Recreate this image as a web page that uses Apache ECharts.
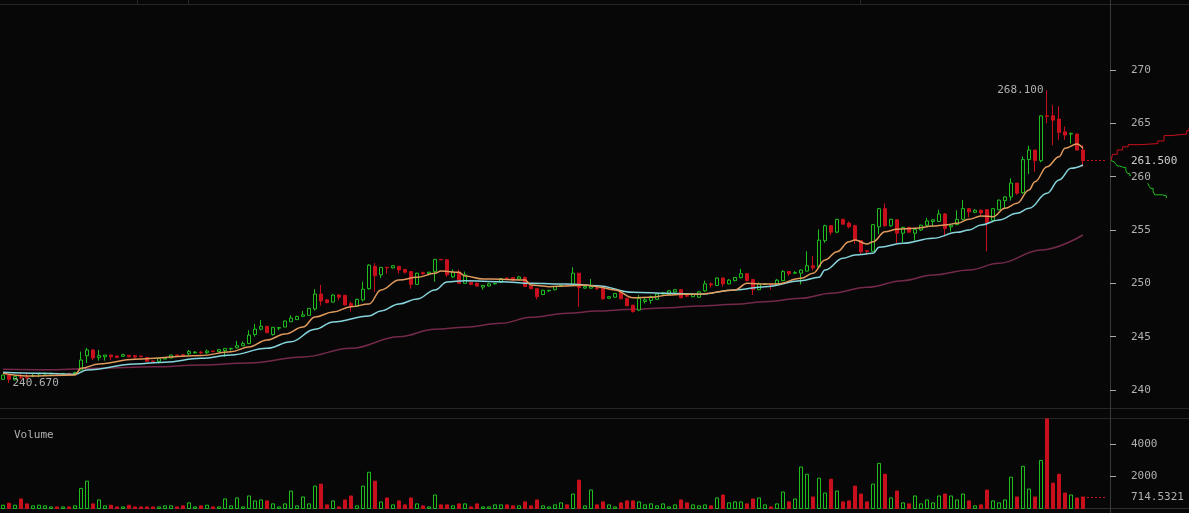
<!DOCTYPE html>
<html><head><meta charset="utf-8">
<script src="https://cdn.jsdelivr.net/npm/echarts@6/dist/echarts.min.js"></script>
<style>html,body{margin:0;padding:0;background:#070707;}#c{width:1189px;height:513px;}</style>
</head><body><div id="c"></div>
<script>
const opens = [241.0,241.4,240.95,241.2,241.2,241.3,241.5,241.5,241.5,241.56,241.52,241.56,241.53,241.875,243.21,243.75,243.03,243.12,243.28,243.19,
243.16,243.25,243.22,243.19,243.06,242.72,242.69,242.9,243.0,243.28,243.3,243.4,243.5,243.55,243.5,243.65,243.6,243.7,243.85,243.95,
244.15,244.35,245.2,245.7,245.97,245.2,245.8,245.9,246.4,246.6,246.9,247.0,247.6,249.0,248.45,248.25,248.9,248.88,248.1,247.85,
248.45,249.5,251.6,250.8,251.5,251.45,251.6,251.3,251.1,249.9,251.0,250.9,251.1,252.25,252.2,250.6,251.05,250.0,250.1,250.0,
249.65,249.75,249.95,250.1,250.5,250.55,250.4,250.55,249.75,249.5,248.95,249.3,249.4,249.7,249.85,249.9,250.95,249.55,249.55,249.55,
249.55,248.6,248.7,249.2,248.6,247.95,247.5,248.3,248.4,248.5,249.0,248.95,249.2,249.4,248.85,248.75,248.7,249.3,249.95,249.8,
250.5,249.95,250.25,250.55,250.9,250.35,249.4,249.9,249.9,249.85,250.25,251.1,250.95,250.95,251.15,251.65,251.55,254.0,255.4,254.8,
256.0,255.65,255.4,254.0,253.05,253.0,255.3,257.0,255.4,255.95,254.7,255.25,254.7,255.0,255.45,255.8,255.8,256.5,255.3,255.5,
256.0,257.0,256.65,256.85,256.9,255.9,256.9,257.75,258.1,259.4,258.5,261.6,262.5,261.5,265.7,265.7,265.4,264.2,264.0,264.0,262.5];
const closes = [241.4,241.0,241.25,241.15,241.15,241.35,241.55,241.55,241.56,241.52,241.56,241.52,241.65,242.81,243.75,243.0,243.22,243.28,243.12,243.03,
243.31,243.12,243.09,243.12,242.69,242.69,242.94,243.0,243.28,243.25,243.25,243.6,243.55,243.5,243.65,243.6,243.78,243.9,243.9,244.15,
244.35,245.15,245.7,245.97,245.37,245.88,245.85,246.47,246.75,246.9,247.05,247.65,249.0,248.35,248.2,248.9,248.7,247.97,247.85,248.5,
249.45,251.7,250.7,251.5,251.45,251.65,251.25,251.05,249.9,250.95,250.9,251.05,252.25,252.2,250.8,251.05,250.0,250.8,249.9,249.75,
249.8,249.95,250.0,250.45,250.45,250.3,250.6,249.7,249.5,248.75,249.35,249.35,249.7,249.8,249.8,250.95,249.6,249.7,249.7,249.5,
248.55,248.75,249.05,248.55,247.9,247.35,248.6,248.45,248.75,249.0,249.1,249.3,249.4,248.65,248.8,248.95,249.2,249.95,249.85,250.5,
249.95,250.3,250.55,250.9,250.25,249.4,249.95,249.95,249.85,250.3,251.1,250.9,251.0,251.25,251.65,251.45,254.05,255.4,254.8,256.0,
255.55,255.3,254.05,252.95,253.0,255.5,257.0,255.4,256.0,254.7,255.25,254.8,255.05,255.45,255.85,255.95,256.5,255.15,255.45,256.0,
257.0,256.7,256.85,256.6,255.65,257.0,257.8,258.1,259.4,258.45,261.6,262.5,261.5,265.7,265.65,265.3,264.15,263.9,264.05,262.5,261.5];
const highs = [241.45,241.45,241.3,241.65,241.65,241.6,241.6,241.65,241.58,241.58,241.58,241.58,241.68,243.6,243.96,243.84,243.75,243.28,243.28,243.19,
243.4,243.25,243.28,243.19,243.06,242.72,243.03,243.05,243.28,243.28,243.4,243.75,243.65,243.65,243.8,243.65,243.85,243.9,243.95,244.6,
244.55,245.6,246.2,246.56,246.0,245.9,245.9,246.5,247.0,246.95,247.4,247.65,249.45,249.85,248.5,249.0,249.0,248.9,248.3,248.55,
250.15,251.8,251.9,251.5,251.55,251.7,251.6,251.3,251.1,251.0,251.1,251.05,252.25,252.25,252.3,251.3,251.3,251.1,250.15,250.1,
249.85,250.05,250.05,250.5,250.55,250.6,250.7,250.65,249.8,249.5,249.4,249.35,249.75,249.85,249.9,251.5,250.95,249.7,250.4,249.7,
249.6,248.8,249.1,249.35,248.6,248.0,248.9,248.7,248.85,249.1,249.2,249.35,249.45,249.45,248.9,249.0,249.25,250.25,250.1,250.55,
250.55,250.4,250.6,251.35,250.95,250.4,250.1,250.0,249.95,250.4,251.25,251.1,251.15,251.3,253.0,252.55,255.05,255.5,255.45,256.05,
256.05,255.8,255.5,254.0,253.1,255.55,257.05,257.5,256.05,256.0,255.3,255.3,255.1,255.5,256.15,256.0,256.9,256.6,255.5,256.85,
257.8,257.05,256.95,256.9,256.9,257.05,257.85,258.15,259.85,259.4,261.9,262.9,262.5,265.75,268.1,266.7,266.6,264.7,264.15,264.0,262.95];
const lows = [240.95,240.67,240.9,241.0,241.0,241.2,241.2,241.45,241.5,241.5,241.5,241.5,241.5,241.875,242.53,242.8,242.75,242.75,242.8,243.03,
243.16,243.06,242.94,243.06,242.69,242.69,242.5,242.9,243.0,243.25,243.15,243.28,243.4,243.35,243.35,243.6,243.6,243.12,243.7,243.9,
244.15,244.3,245.0,245.6,245.35,245.1,245.6,245.9,246.4,246.6,246.9,247.0,247.45,247.9,248.1,248.2,248.4,247.95,247.35,247.8,
248.3,249.4,249.2,250.5,250.9,251.4,250.9,250.9,249.5,249.85,250.8,250.75,250.15,252.2,250.6,250.5,249.95,249.95,249.85,249.7,
249.4,249.7,249.9,250.05,250.35,250.25,250.35,249.65,249.45,248.5,248.9,249.2,249.35,249.65,249.75,249.9,247.8,249.5,249.5,249.35,
248.45,248.55,248.65,248.5,247.85,247.25,247.4,248.1,248.1,248.45,248.95,248.9,249.15,248.6,248.7,248.7,248.65,249.2,249.6,249.75,
249.7,249.9,250.2,250.45,250.2,248.9,249.35,249.85,249.4,249.8,250.2,250.7,250.9,249.9,251.1,251.2,251.5,253.8,254.5,254.7,
255.5,255.15,253.7,252.7,252.7,252.95,254.6,255.3,255.3,253.75,253.85,254.75,254.0,254.9,255.35,255.3,255.75,254.4,254.85,255.45,
255.9,256.2,256.6,256.3,253.0,255.85,256.85,257.0,257.75,258.3,258.4,260.25,260.45,261.35,265.0,262.95,263.45,263.45,263.1,262.45,260.95];
const volumes = [205,330,205,595,287,164,205,164,100,100,100,100,164,1250,1700,287,533,164,205,100,
100,205,100,100,100,100,100,164,164,100,164,350,100,164,205,100,100,595,164,656,
100,779,472,533,472,287,100,287,1086,164,717,287,1394,1517,225,472,100,533,779,164,
1394,2255,1700,410,656,225,472,225,656,287,164,100,840,225,225,164,287,287,100,287,
100,100,225,225,225,164,164,410,164,533,164,100,225,350,225,902,1763,164,1148,225,
410,225,100,350,472,472,410,225,287,164,287,100,225,533,350,225,164,225,164,656,
840,350,410,410,287,595,656,225,100,287,1025,410,595,2583,2132,717,1886,963,1824,1086,
410,472,1394,902,410,1517,2808,2132,656,1086,350,287,779,287,533,350,779,902,779,533,
902,472,164,225,1148,472,350,533,1947,717,2624,1210,717,2993,5576,1578,2132,963,840,656,714.5321];
const maFast = [[0,241.57],[4,241.31],[12,241.41],[13,242.03],[16,242.44],[22,242.89],[33,243.23],[38,243.59],[41,244.03],[44,244.69],
[47,245.25],[50,245.9],[52,246.84],[55,247.31],[58,247.81],[61,248.06],[63,249.38],[66,250.31],[69,250.56],[72,250.94],[73,251.16],
[76,251.03],[77,250.69],[80,250.41],[83,250.38],[87,250.31],[88,249.84],[91,249.69],[94,249.75],[97,249.84],[99,249.69],[102,249.38],
[105,248.65],[108,248.69],[111,248.91],[113,248.97],[116,248.98],[122,249.38],[124,250.0],[127,249.94],[129,249.94],[133,250.47],
[135,250.94],[137,252.19],[139,252.97],[141,253.9],[142,254.06],[144,253.69],[145,253.9],[147,254.84],[149,255.07],[152,255.16],
[155,255.37],[157,255.47],[159,255.63],[161,256.0],[163,256.31],[165,256.25],[167,257.03],[169,257.5],[171,258.75],[172,259.53],
[174,260.93],[176,261.87],[177,262.66],[179,263.06],[180,262.66]];
const maMid = [[0,241.66],[6,241.56],[12,241.47],[14,241.88],[22,242.44],[27,242.6],[33,242.97],[38,243.28],[44,243.91],[48,244.53],
[52,245.69],[55,246.38],[61,246.94],[63,247.41],[66,248.06],[69,248.53],[72,249.38],[74,250.13],[77,250.25],[83,250.16],[88,250.0],
[94,249.94],[99,249.78],[105,249.16],[111,249.06],[116,248.97],[122,249.38],[127,249.69],[133,250.25],[136,250.56],[137,251.25],
[140,252.35],[142,252.66],[145,252.81],[146,253.38],[150,253.75],[155,254.22],[159,254.78],[161,255.0],[163,255.47],[166,255.94],
[169,256.56],[171,257.03],[174,258.44],[176,259.69],[178,260.78],[180,261.09]];
const maSlow = [[0,241.94],[8,241.9],[16,242.03],[25,242.17],[33,242.34],[41,242.53],[50,243.1],[58,243.91],[66,245.0],[72,245.69],
[77,245.88],[83,246.25],[88,246.81],[94,247.19],[99,247.4],[105,247.56],[111,247.72],[116,247.88],[122,248.03],[127,248.28],[133,248.6],
[138,249.07],[144,249.63],[150,250.25],[155,250.78],[161,251.25],[166,251.88],[173,253.13],[180,254.53]];
const askDepth = [[0,261.5],[2,262.1],[8,262.5],[15,262.8],[22,263.0],[37,263.1],[60,263.35],[68,263.85],[77,264.0],[97,264.3],[100,264.6]];
const bidDepth = [[0,261.5],[1.3,261.4],[4,261.3],[6,261.2],[8,261.0],[11,260.9],[15,260.85],[19,260.6],[21,260.3],[24,260.1],[28,260.05],
[35,259.9],[42,259.6],[47,259.4],[49,259.1],[51,258.9],[54,258.6],[56,258.3],[66,258.2],[71,258.0]];
const priceTicks = [240,245,250,255,260,265,270];
const volumeTicks = [2000,4000];
const lastPrice = 261.5;
const lastVolume = 714.5321;

const UP = '#1fbf1f', DOWN = '#c8101c', BG = '#070707', TXT = '#b0b0b0';
const FONT = '"DejaVu Sans Mono", monospace';
const n = opens.length;
const categories = [];
for (let i = 0; i < n + 4; i++) categories.push('t' + i);
const candleData = opens.map((o, i) => [o, closes[i], lows[i], highs[i]]);
// volume drawn as boxes from 0 to the volume: up bars hollow, down bars filled
const volData = volumes.map((v, i) => closes[i] >= opens[i] ? [0, v, 0, v] : [v, 0, 0, v]);
const lblStyle = {color: TXT, fontFamily: FONT, fontSize: 11};
const boxStyle = {color: BG, color0: DOWN, borderColor: UP, borderColor0: DOWN, borderColorDoji: UP, borderWidth: 1};

const chart = echarts.init(document.getElementById('c'), null, {renderer: 'canvas'});
const gline = (x1, y1, x2, y2, c) => ({type: 'line', silent: true, z: 0,
  shape: {x1, y1, x2, y2}, style: {stroke: c, lineWidth: 1}});
chart.setOption({
  backgroundColor: BG,
  animation: false,
  title: {text: 'Volume', left: 9, top: 425, textStyle: {color: TXT, fontFamily: FONT, fontSize: 11, fontWeight: 'normal'}},
  graphic: [
    gline(0, 4.5, 1189, 4.5, '#262626'),
    gline(137.5, 0, 137.5, 4, '#262626'),
    gline(188.5, 0, 188.5, 4, '#262626'),
    gline(860.5, 0, 860.5, 4, '#262626'),
    gline(0, 408.5, 1189, 408.5, '#262626'),
    gline(0, 418.5, 1189, 418.5, '#262626'),
    gline(0, 508.5, 1189, 508.5, '#2e2e2e'),
    gline(1110.5, 0, 1110.5, 513, '#3a3a3a')
  ],
  grid: [
    {left: 0, right: 79, top: 4, height: 404},
    {left: 0, right: 79, top: 418.5, height: 90},
    {left: 1111, right: 0, top: 4, height: 404}
  ],
  xAxis: [
    {type: 'category', gridIndex: 0, data: categories, show: false},
    {type: 'category', gridIndex: 1, data: categories, show: false},
    {type: 'value', gridIndex: 2, min: 0, max: 100, show: false}
  ],
  yAxis: [
    {type: 'value', gridIndex: 0, position: 'right', min: 238.3125, max: 276.1875, z: 10,
      axisLine: {show: false}, splitLine: {show: false},
      axisTick: {show: true, length: 6, lineStyle: {color: '#aaa'}, customValues: priceTicks},
      axisLabel: Object.assign({customValues: priceTicks, margin: 21, backgroundColor: BG, padding: [1, 0, 1, 0]}, lblStyle)},
    {type: 'value', gridIndex: 1, position: 'right', min: 0, max: 5600, z: 10,
      axisLine: {show: false}, splitLine: {show: false},
      axisTick: {show: true, length: 6, lineStyle: {color: '#aaa'}, customValues: volumeTicks},
      axisLabel: Object.assign({customValues: volumeTicks, margin: 21, formatter: v => String(v)}, lblStyle)},
    {type: 'value', gridIndex: 2, min: 238.3125, max: 276.1875, show: false}
  ],
  series: [
    {type: 'candlestick', xAxisIndex: 0, yAxisIndex: 0, data: candleData, barWidth: 3, z: 3,
      itemStyle: boxStyle,
      markPoint: {symbol: 'circle', symbolSize: 1, itemStyle: {color: 'rgba(0,0,0,0)'},
        label: Object.assign({show: true, formatter: p => Number(p.value).toFixed(3)}, lblStyle),
        data: [
          {type: 'max', valueDim: 'highest', label: {position: 'left', distance: 3}},
          {type: 'min', valueDim: 'lowest', label: {position: 'right', distance: 3}}
        ]},
      markLine: {symbol: 'none', silent: true,
        lineStyle: {color: DOWN, type: [2, 2], width: 1},
        label: Object.assign({show: true, position: 'end', distance: 24, formatter: () => lastPrice.toFixed(3), backgroundColor: BG}, lblStyle, {color: '#cccccc'}),
        data: [[{coord: [n - 1, lastPrice]}, {coord: [n + 3, lastPrice]}]]}
    },
    {type: 'line', xAxisIndex: 0, yAxisIndex: 0, data: maSlow, showSymbol: false, smooth: 0.4, smoothMonotone: 'x', z: 2,
      lineStyle: {color: '#74294a', width: 1.5}},
    {type: 'line', xAxisIndex: 0, yAxisIndex: 0, data: maMid, showSymbol: false, smooth: 0.4, smoothMonotone: 'x', z: 4,
      lineStyle: {color: '#86d4dc', width: 1.5}},
    {type: 'line', xAxisIndex: 0, yAxisIndex: 0, data: maFast, showSymbol: false, smooth: 0.4, smoothMonotone: 'x', z: 4,
      lineStyle: {color: '#e09a5c', width: 1.5}},
    {type: 'candlestick', xAxisIndex: 1, yAxisIndex: 1, data: volData, barWidth: 3,
      itemStyle: boxStyle,
      markLine: {symbol: 'none', silent: true,
        lineStyle: {color: DOWN, type: [2, 2], width: 1},
        label: Object.assign({show: true, position: 'end', distance: 24, formatter: () => lastVolume.toFixed(4)}, lblStyle),
        data: [[{coord: [n - 1, lastVolume]}, {coord: [n + 3, lastVolume]}]]}
    },
    {type: 'line', xAxisIndex: 2, yAxisIndex: 2, data: askDepth, step: 'end', showSymbol: false, z: 1,
      lineStyle: {color: DOWN, width: 1}},
    {type: 'line', xAxisIndex: 2, yAxisIndex: 2, data: bidDepth, step: 'end', showSymbol: false, z: 1,
      lineStyle: {color: UP, width: 1}}
  ]
});
</script>
</body></html>
